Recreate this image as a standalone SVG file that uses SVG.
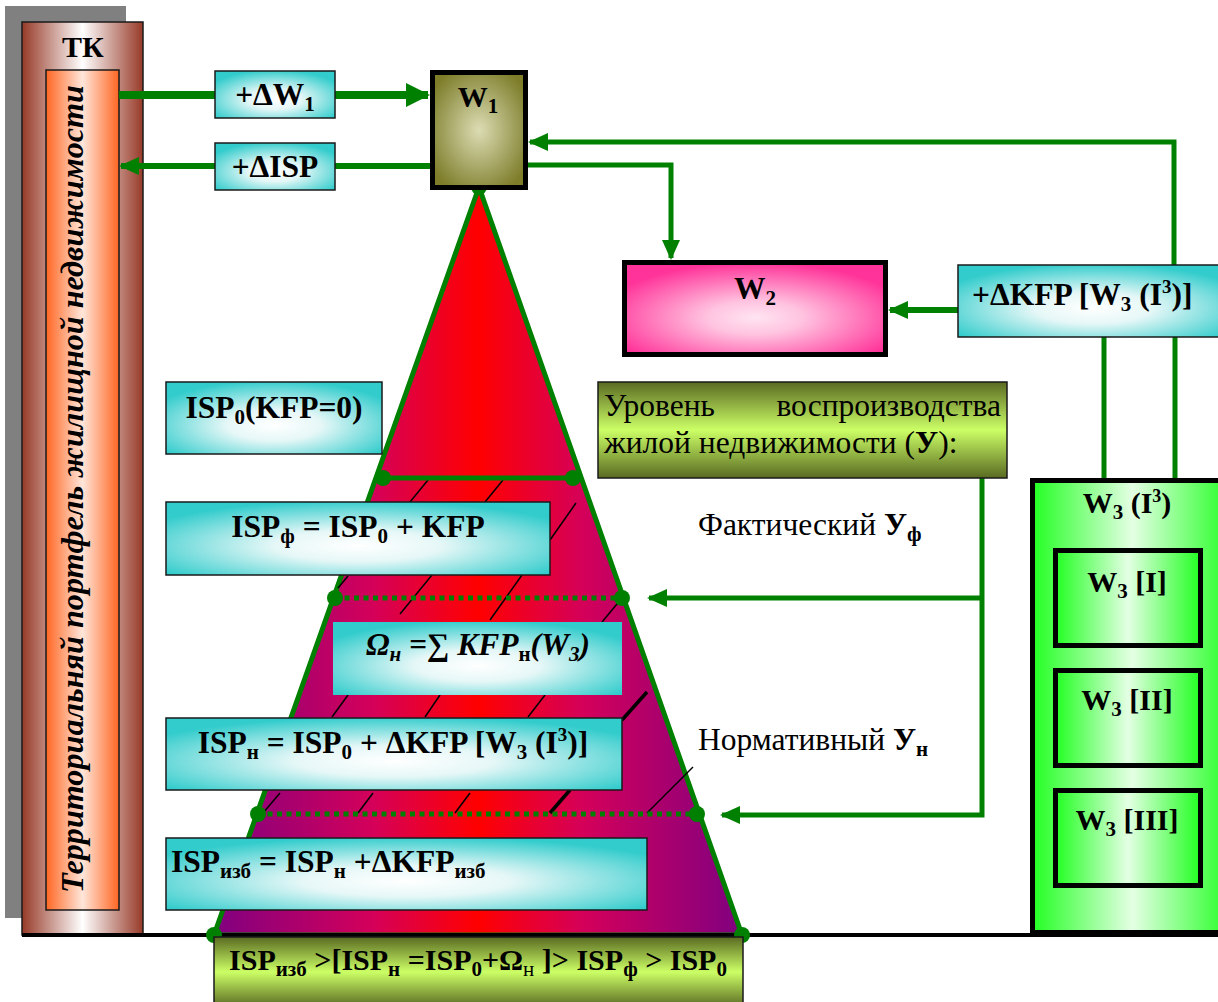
<svg xmlns="http://www.w3.org/2000/svg" width="1218" height="1002" viewBox="0 0 1218 1002" font-family="Liberation Serif, Times New Roman, serif">
<style>
.b{font-family:Liberation Serif,Times New Roman,serif;font-weight:bold;font-size:31.5px;fill:#000}
.w{font-size:30px}
.r{font-family:Liberation Serif,Times New Roman,serif;font-size:31.5px;fill:#000}
.s{font-size:21px}
.cy{fill:url(#gCyan);stroke:#1a1a1a;stroke-width:1.5}
.con{fill:none;stroke:#008000}
.h{stroke:#000;stroke-width:1.5}
.hk{stroke:#000;stroke-width:3.5}
.dot{fill:#008000}
</style>
<defs>
<radialGradient id="gCyan" cx="0.5" cy="0.6" r="0.62">
<stop offset="0" stop-color="#ffffff"/><stop offset="0.35" stop-color="#e6f7f7"/><stop offset="1" stop-color="#33cccc"/>
</radialGradient>
<radialGradient id="gOlive" cx="0.5" cy="0.5" r="0.6">
<stop offset="0" stop-color="#dcdcb4"/><stop offset="1" stop-color="#7d7d2a"/>
</radialGradient>
<radialGradient id="gPink" cx="0.5" cy="0.6" r="0.6">
<stop offset="0" stop-color="#ffe4f2"/><stop offset="0.3" stop-color="#ffc4e0"/><stop offset="1" stop-color="#ff3399"/>
</radialGradient>
<linearGradient id="gTK" x1="0" y1="0" x2="1" y2="0">
<stop offset="0" stop-color="#973a28"/><stop offset="0.5" stop-color="#ffffff"/><stop offset="1" stop-color="#973a28"/>
</linearGradient>
<linearGradient id="gOr" x1="0" y1="0" x2="1" y2="0">
<stop offset="0" stop-color="#ff6622"/><stop offset="0.5" stop-color="#ffe6da"/><stop offset="1" stop-color="#ff6622"/>
</linearGradient>
<linearGradient id="gGr" x1="0" y1="0" x2="1" y2="0">
<stop offset="0" stop-color="#22ff22"/><stop offset="0.5" stop-color="#e4ffe4"/><stop offset="1" stop-color="#22ff22"/>
</linearGradient>
<linearGradient id="gYg" x1="0" y1="0" x2="0" y2="1">
<stop offset="0" stop-color="#5a6a22"/><stop offset="0.5" stop-color="#ccff66"/><stop offset="1" stop-color="#5a6a22"/>
</linearGradient>
<linearGradient id="gPyr" gradientUnits="userSpaceOnUse" x1="214" y1="0" x2="742" y2="0">
<stop offset="0" stop-color="#800080"/><stop offset="0.3" stop-color="#d4005a"/><stop offset="0.5" stop-color="#ff0000"/><stop offset="0.7" stop-color="#d4005a"/><stop offset="1" stop-color="#800080"/>
</linearGradient>
<marker id="aL" markerUnits="userSpaceOnUse" markerWidth="24" markerHeight="24" refX="22" refY="12" orient="auto"><path d="M0,0 L24,12 L0,24 z" fill="#008000"/></marker>
<marker id="aM" markerUnits="userSpaceOnUse" markerWidth="20" markerHeight="20" refX="18" refY="10" orient="auto"><path d="M0,1 L20,10 L0,19 z" fill="#008000"/></marker>
</defs>

<g id="tk">
<rect x="5" y="6" width="121" height="912" fill="#808080"/>
<rect x="22" y="22" width="121" height="913" fill="url(#gTK)" stroke="#1a1a1a" stroke-width="1.5"/>
<text class="b w" x="83" y="57" text-anchor="middle">ТК</text>
<rect x="46" y="70" width="73" height="840" fill="url(#gOr)" stroke="#1a1a1a" stroke-width="1.5"/>
<text class="b" font-style="italic" font-size="33" transform="translate(83,893) rotate(-90)" textLength="808" lengthAdjust="spacingAndGlyphs">Территориальняй портфель жилищной недвижимости</text>
</g>

<g id="pyramid">
<polygon points="479,187 214,935 742,935" fill="url(#gPyr)" stroke="#008000" stroke-width="5" stroke-linejoin="round"/>
<line x1="410" y1="502" x2="428" y2="480" class="h"/>
<line x1="485" y1="502" x2="503" y2="480" class="h"/>
<line x1="550" y1="540" x2="576" y2="503" class="h"/>
<line x1="338" y1="588" x2="348" y2="576" class="h"/>
<line x1="400" y1="614" x2="432" y2="575" class="h"/>
<line x1="490" y1="620" x2="522" y2="575" class="h"/>
<line x1="602" y1="622" x2="622" y2="598" class="h"/>
<line x1="332" y1="717" x2="348" y2="695" class="h"/>
<line x1="425" y1="717" x2="440" y2="695" class="h"/>
<line x1="528" y1="717" x2="545" y2="695" class="h"/>
<line x1="622" y1="720" x2="647" y2="692" class="hk"/>
<line x1="263" y1="813" x2="280" y2="793" class="h"/>
<line x1="358" y1="813" x2="373" y2="793" class="h"/>
<line x1="455" y1="813" x2="470" y2="793" class="h"/>
<line x1="550" y1="813" x2="570" y2="790" class="hk"/>
<line x1="647" y1="813" x2="693" y2="767" class="h"/>
<line x1="383" y1="478" x2="573" y2="478" stroke="#008000" stroke-width="5"/>
<line x1="335" y1="598" x2="622" y2="598" stroke="#008000" stroke-width="5" stroke-dasharray="5 4.5"/>
<line x1="258" y1="814" x2="697" y2="814" stroke="#008000" stroke-width="5" stroke-dasharray="5 4.5"/>
<circle class="dot" cx="479" cy="187" r="8"/>
<circle class="dot" cx="383" cy="478" r="8"/>
<circle class="dot" cx="573" cy="478" r="8"/>
<circle class="dot" cx="335" cy="598" r="8"/>
<circle class="dot" cx="622" cy="598" r="8"/>
<circle class="dot" cx="258" cy="814" r="8"/>
<circle class="dot" cx="697" cy="814" r="8"/>
</g>

<g id="connectors">
<path class="con" d="M119,95 H428" stroke-width="8" marker-end="url(#aL)"/>
<path class="con" d="M430,166 H121" stroke-width="6" marker-end="url(#aM)"/>
<path class="con" d="M528,165 H671 V258" stroke-width="5" marker-end="url(#aM)"/>
<path class="con" d="M1174,265 V142 H530" stroke-width="5" marker-end="url(#aM)"/>
<path class="con" d="M958,310 H890" stroke-width="6" marker-end="url(#aM)"/>
<path class="con" d="M1104,337 V478 M1175,337 V478" stroke-width="5"/>
<path class="con" d="M982,478 V815 H722" stroke-width="5" marker-end="url(#aM)"/>
<path class="con" d="M982,598 H649" stroke-width="5" marker-end="url(#aM)"/>
</g>

<g id="dW1">
<rect class="cy" x="215" y="71" width="120" height="47"/>
<text class="b" x="275" y="105" text-anchor="middle">+ΔW<tspan class="s" dy="6">1</tspan></text>
</g>
<g id="dISP">
<rect class="cy" x="215" y="143" width="120" height="47"/>
<text class="b" x="275" y="177" text-anchor="middle">+ΔISP</text>
</g>
<g id="W1">
<rect x="432.5" y="72.5" width="93" height="115" fill="url(#gOlive)" stroke="#000" stroke-width="5"/>
<text class="b w" x="478" y="107" text-anchor="middle">W<tspan class="s" dy="6">1</tspan></text>
</g>
<g id="W2">
<rect x="624.5" y="262.5" width="261" height="92" fill="url(#gPink)" stroke="#000" stroke-width="5"/>
<text class="b" x="755" y="299" text-anchor="middle" font-size="28">W<tspan class="s" dy="6">2</tspan></text>
</g>
<g id="dKFP">
<rect class="cy" x="958" y="265" width="270" height="72"/>
<text class="b" x="972" y="305">+ΔKFP [W<tspan class="s" dy="6">3</tspan><tspan dy="-6"> (I</tspan><tspan font-size="19" dy="-12">3</tspan><tspan dy="12">)]</tspan></text>
</g>
<g id="ISP0">
<rect class="cy" x="166" y="382" width="216" height="72"/>
<text class="b" x="274" y="418" text-anchor="middle">ISP<tspan class="s" dy="6">0</tspan><tspan dy="-6">(KFP=0)</tspan></text>
</g>
<g id="ISPf">
<rect class="cy" x="166" y="502" width="384" height="73"/>
<text class="b" x="358" y="537" text-anchor="middle">ISP<tspan class="s" dy="6">ф</tspan><tspan dy="-6"> = ISP</tspan><tspan class="s" dy="6">0</tspan><tspan dy="-6"> + KFP</tspan></text>
</g>
<g id="Omega">
<rect x="333" y="622" width="289" height="73" fill="url(#gCyan)"/>
<text class="b" x="478" y="655" text-anchor="middle" font-style="italic">Ω<tspan class="s" dy="6">н</tspan><tspan dy="-6"> =∑ KFP</tspan><tspan class="s" dy="6" font-style="normal">н</tspan><tspan dy="-6">(W</tspan><tspan class="s" dy="6">3</tspan><tspan dy="-6">)</tspan></text>
</g>
<g id="ISPn">
<rect class="cy" x="166" y="718" width="456" height="72"/>
<text class="b" x="393" y="753" text-anchor="middle">ISP<tspan class="s" dy="6">н</tspan><tspan dy="-6"> = ISP</tspan><tspan class="s" dy="6">0</tspan><tspan dy="-6"> + ΔKFP [W</tspan><tspan class="s" dy="6">3</tspan><tspan dy="-6"> (I</tspan><tspan font-size="19" dy="-12">3</tspan><tspan dy="12">)]</tspan></text>
</g>
<g id="ISPizb">
<rect class="cy" x="166" y="838" width="481" height="72"/>
<text class="b" x="171" y="872">ISP<tspan class="s" dy="6">изб</tspan><tspan dy="-6"> = ISP</tspan><tspan class="s" dy="6">н</tspan><tspan dy="-6"> +ΔKFP</tspan><tspan class="s" dy="6">изб</tspan></text>
</g>
<g id="level">
<rect x="598" y="382" width="409" height="96" fill="url(#gYg)" stroke="#1a1a1a" stroke-width="1.5"/>
<text class="r" x="604" y="416">Уровень</text>
<text class="r" x="1001" y="416" text-anchor="end">воспроизводства</text>
<text class="r" x="604" y="453">жилой недвижимости (<tspan font-weight="bold">У</tspan>):</text>
</g>
<g id="fact">
<text class="r" x="698" y="535">Фактический <tspan font-weight="bold">У</tspan><tspan font-weight="bold" class="s" dy="6">ф</tspan></text>
</g>
<g id="norm">
<text class="r" x="698" y="750">Нормативный <tspan font-weight="bold">У</tspan><tspan font-weight="bold" class="s" dy="6">н</tspan></text>
</g>
<g id="W3">
<rect x="1032.5" y="480.5" width="200" height="452" fill="url(#gGr)" stroke="#000" stroke-width="5"/>
<text class="b w" x="1127" y="513" text-anchor="middle">W<tspan class="s" dy="6">3</tspan><tspan dy="-6"> (I</tspan><tspan font-size="18" dy="-11">3</tspan><tspan dy="11">)</tspan></text>
</g>
<g id="W3I">
<rect x="1055.5" y="550.5" width="145" height="95" fill="url(#gGr)" stroke="#000" stroke-width="5"/>
<text class="b w" x="1127" y="592" text-anchor="middle">W<tspan class="s" dy="6">3</tspan><tspan dy="-6"> [I]</tspan></text>
</g>
<g id="W3II">
<rect x="1055.5" y="670.5" width="145" height="95" fill="url(#gGr)" stroke="#000" stroke-width="5"/>
<text class="b w" x="1127" y="710" text-anchor="middle">W<tspan class="s" dy="6">3</tspan><tspan dy="-6"> [II]</tspan></text>
</g>
<g id="W3III">
<rect x="1055.5" y="790.5" width="145" height="95" fill="url(#gGr)" stroke="#000" stroke-width="5"/>
<text class="b w" x="1127" y="830" text-anchor="middle">W<tspan class="s" dy="6">3</tspan><tspan dy="-6"> [III]</tspan></text>
</g>

<line x1="22" y1="935" x2="1218" y2="935" stroke="#000" stroke-width="4"/>
<circle class="dot" cx="214" cy="935" r="8"/>
<circle class="dot" cx="742" cy="935" r="8"/>
<g id="summary">
<rect x="214" y="937" width="529" height="70" fill="url(#gYg)" stroke="#1a1a1a" stroke-width="1.5"/>
<text class="b w" x="478" y="970" text-anchor="middle">ISP<tspan class="s" dy="6">изб</tspan><tspan dy="-6"> &gt;[ISP</tspan><tspan class="s" dy="6">н</tspan><tspan dy="-6"> =ISP</tspan><tspan class="s" dy="6">0</tspan><tspan dy="-6">+Ω</tspan><tspan class="s" dy="6" font-weight="normal">н</tspan><tspan dy="-6"> ]&gt; ISP</tspan><tspan class="s" dy="6">ф</tspan><tspan dy="-6"> &gt; ISP</tspan><tspan class="s" dy="6">0</tspan></text>
</g>
</svg>
